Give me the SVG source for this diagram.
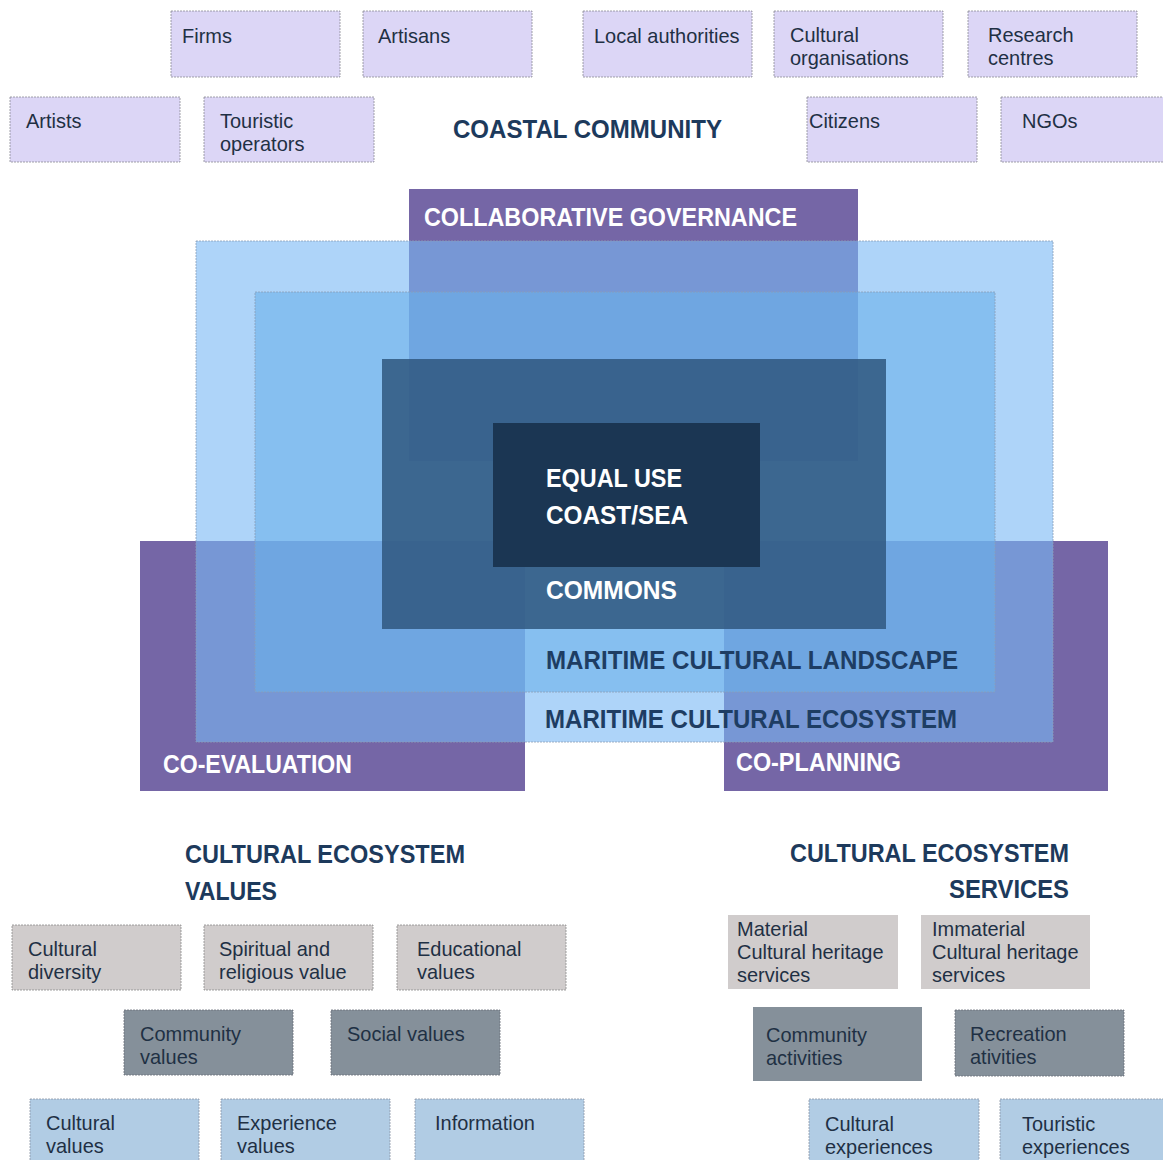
<svg xmlns="http://www.w3.org/2000/svg" width="1163" height="1160" viewBox="0 0 1163 1160">
  <style>
    .bt { font-family: "Liberation Sans", Arial, sans-serif; font-size: 20.5px; fill: #1f3044; }
    .hd { font-family: "Liberation Sans", Arial, sans-serif; font-weight: bold; font-size: 26px; fill: #1d3a5c; }
    .lbw { font-family: "Liberation Sans", Arial, sans-serif; font-weight: bold; font-size: 25px; fill: #ffffff; }
    .lbd { font-family: "Liberation Sans", Arial, sans-serif; font-weight: bold; font-size: 25px; fill: #1e3d63; }
    .actor { fill: #dcd6f6; stroke: #8a8a96; stroke-width: 0.8; stroke-dasharray: 2 1; }
    .val1 { fill: #d0cccc; stroke: #8c8c8c; stroke-width: 0.8; stroke-dasharray: 2 1; }
    .val2 { fill: #85909a; stroke: #6a7078; stroke-width: 0.8; stroke-dasharray: 2 1; }
    .val3 { fill: #b1cce4; stroke: #8a96a4; stroke-width: 0.8; stroke-dasharray: 2 1; }
    .svc1 { fill: #d0cccc; }
    .svc2 { fill: #85909a; }
    .purple { fill: #7566a6; }
    .layer { stroke: #8aa0b8; stroke-width: 0.8; stroke-dasharray: 2 1; }
  </style>

  <rect width="1163" height="1160" fill="#ffffff"/>

  <!-- Coastal community actors -->
  <g id="firms"><rect class="actor" x="171" y="11" width="169" height="66"/>
    <text class="bt" transform="translate(182 43) scale(0.975 1)">Firms</text></g>
  <g id="artisans"><rect class="actor" x="363" y="11" width="169" height="66"/>
    <text class="bt" transform="translate(378 43) scale(0.975 1)">Artisans</text></g>
  <g id="local-authorities"><rect class="actor" x="583" y="11" width="169" height="66"/>
    <text class="bt" transform="translate(594 43) scale(0.975 1)">Local authorities</text></g>
  <g id="cultural-organisations"><rect class="actor" x="774" y="11" width="169" height="66"/>
    <text class="bt" transform="translate(790 42) scale(0.975 1)"><tspan x="0">Cultural</tspan><tspan x="0" dy="23">organisations</tspan></text></g>
  <g id="research-centres"><rect class="actor" x="968" y="11" width="169" height="66"/>
    <text class="bt" transform="translate(988 42) scale(0.975 1)"><tspan x="0">Research</tspan><tspan x="0" dy="23">centres</tspan></text></g>
  <g id="artists"><rect class="actor" x="10" y="97" width="170" height="65"/>
    <text class="bt" transform="translate(26 128) scale(0.975 1)">Artists</text></g>
  <g id="touristic-operators"><rect class="actor" x="204" y="97" width="170" height="65"/>
    <text class="bt" transform="translate(220 128) scale(0.975 1)"><tspan x="0">Touristic</tspan><tspan x="0" dy="23">operators</tspan></text></g>
  <g id="citizens"><rect class="actor" x="807" y="97" width="170" height="65"/>
    <text class="bt" transform="translate(809 128) scale(0.975 1)">Citizens</text></g>
  <g id="ngos"><rect class="actor" x="1001" y="97" width="170" height="65"/>
    <text class="bt" transform="translate(1022 128) scale(0.975 1)">NGOs</text></g>

  <g id="coastal-community">
    <text class="hd" x="453" y="138" textLength="269" lengthAdjust="spacingAndGlyphs">COASTAL COMMUNITY</text>
  </g>

  <!-- Governance practices (drawn first, blue layers sit over them) -->
  <g id="collaborative-governance">
    <rect class="purple" x="409" y="189" width="449" height="272"/>
  </g>
  <g id="co-evaluation">
    <rect class="purple" x="140" y="541" width="385" height="250"/>
  </g>
  <g id="co-planning">
    <rect class="purple" x="724" y="541" width="384" height="250"/>
  </g>

  <!-- Nested landscape layers -->
  <g id="maritime-cultural-ecosystem">
    <rect class="layer" x="196" y="241" width="857" height="501" fill="rgb(120,183,245)" fill-opacity="0.6"/>
  </g>
  <g id="maritime-cultural-landscape">
    <rect class="layer" x="255" y="292" width="740" height="400" fill="rgb(107,177,234)" fill-opacity="0.6"/>
  </g>
  <g id="commons">
    <rect x="382" y="359" width="504" height="270" fill="rgb(48,88,128)" fill-opacity="0.86"/>
  </g>
  <g id="equal-use">
    <rect x="493" y="423" width="267" height="144" fill="#1b3653"/>
  </g>

  <!-- Layer labels -->
  <text class="lbw" x="424" y="226" textLength="373" lengthAdjust="spacingAndGlyphs">COLLABORATIVE GOVERNANCE</text>
  <text class="lbw" x="546" y="487" textLength="136" lengthAdjust="spacingAndGlyphs">EQUAL USE</text>
  <text class="lbw" x="546" y="524" textLength="142" lengthAdjust="spacingAndGlyphs">COAST/SEA</text>
  <text class="lbw" x="546" y="599" textLength="131" lengthAdjust="spacingAndGlyphs">COMMONS</text>
  <text class="lbd" x="546" y="669" textLength="412" lengthAdjust="spacingAndGlyphs">MARITIME CULTURAL LANDSCAPE</text>
  <text class="lbd" x="545" y="728" textLength="412" lengthAdjust="spacingAndGlyphs">MARITIME CULTURAL ECOSYSTEM</text>
  <text class="lbw" x="163" y="773" textLength="189" lengthAdjust="spacingAndGlyphs">CO-EVALUATION</text>
  <text class="lbw" x="736" y="771" textLength="165" lengthAdjust="spacingAndGlyphs">CO-PLANNING</text>

  <!-- Cultural ecosystem values -->
  <g id="values-heading">
    <text class="hd" x="185" y="863" textLength="280" lengthAdjust="spacingAndGlyphs">CULTURAL ECOSYSTEM</text>
    <text class="hd" x="185" y="900" textLength="92" lengthAdjust="spacingAndGlyphs">VALUES</text>
  </g>
  <g id="cultural-diversity"><rect class="val1" x="12" y="925" width="169" height="65"/>
    <text class="bt" transform="translate(28 956) scale(0.975 1)"><tspan x="0">Cultural</tspan><tspan x="0" dy="23">diversity</tspan></text></g>
  <g id="spiritual-religious"><rect class="val1" x="204" y="925" width="169" height="65"/>
    <text class="bt" transform="translate(219 956) scale(0.975 1)"><tspan x="0">Spiritual and</tspan><tspan x="0" dy="23">religious value</tspan></text></g>
  <g id="educational-values"><rect class="val1" x="397" y="925" width="169" height="65"/>
    <text class="bt" transform="translate(417 956) scale(0.975 1)"><tspan x="0">Educational</tspan><tspan x="0" dy="23">values</tspan></text></g>
  <g id="community-values"><rect class="val2" x="124" y="1010" width="169" height="65"/>
    <text class="bt" transform="translate(140 1041) scale(0.975 1)"><tspan x="0">Community</tspan><tspan x="0" dy="23">values</tspan></text></g>
  <g id="social-values"><rect class="val2" x="331" y="1010" width="169" height="65"/>
    <text class="bt" transform="translate(347 1041) scale(0.975 1)">Social values</text></g>
  <g id="cultural-values"><rect class="val3" x="30" y="1099" width="169" height="70"/>
    <text class="bt" transform="translate(46 1130) scale(0.975 1)"><tspan x="0">Cultural</tspan><tspan x="0" dy="23">values</tspan></text></g>
  <g id="experience-values"><rect class="val3" x="221" y="1099" width="169" height="70"/>
    <text class="bt" transform="translate(237 1130) scale(0.975 1)"><tspan x="0">Experience</tspan><tspan x="0" dy="23">values</tspan></text></g>
  <g id="information"><rect class="val3" x="415" y="1099" width="169" height="70"/>
    <text class="bt" transform="translate(435 1130) scale(0.975 1)">Information</text></g>

  <!-- Cultural ecosystem services -->
  <g id="services-heading">
    <text class="hd" x="790" y="862" textLength="279" lengthAdjust="spacingAndGlyphs">CULTURAL ECOSYSTEM</text>
    <text class="hd" x="949" y="898" textLength="120" lengthAdjust="spacingAndGlyphs">SERVICES</text>
  </g>
  <g id="material-heritage"><rect class="svc1" x="728" y="915" width="170" height="74"/>
    <text class="bt" transform="translate(737 936) scale(0.975 1)"><tspan x="0">Material</tspan><tspan x="0" dy="23">Cultural heritage</tspan><tspan x="0" dy="23">services</tspan></text></g>
  <g id="immaterial-heritage"><rect class="svc1" x="921" y="915" width="169" height="74"/>
    <text class="bt" transform="translate(932 936) scale(0.975 1)"><tspan x="0">Immaterial</tspan><tspan x="0" dy="23">Cultural heritage</tspan><tspan x="0" dy="23">services</tspan></text></g>
  <g id="community-activities"><rect class="svc2" x="753" y="1007" width="169" height="74"/>
    <text class="bt" transform="translate(766 1042) scale(0.975 1)"><tspan x="0">Community</tspan><tspan x="0" dy="23">activities</tspan></text></g>
  <g id="recreation-activities"><rect class="val2" x="955" y="1010" width="169" height="66"/>
    <text class="bt" transform="translate(970 1041) scale(0.975 1)"><tspan x="0">Recreation</tspan><tspan x="0" dy="23">ativities</tspan></text></g>
  <g id="cultural-experiences"><rect class="val3" x="809" y="1099" width="170" height="70"/>
    <text class="bt" transform="translate(825 1131) scale(0.975 1)"><tspan x="0">Cultural</tspan><tspan x="0" dy="23">experiences</tspan></text></g>
  <g id="touristic-experiences"><rect class="val3" x="1000" y="1099" width="170" height="70"/>
    <text class="bt" transform="translate(1022 1131) scale(0.975 1)"><tspan x="0">Touristic</tspan><tspan x="0" dy="23">experiences</tspan></text></g>
</svg>
